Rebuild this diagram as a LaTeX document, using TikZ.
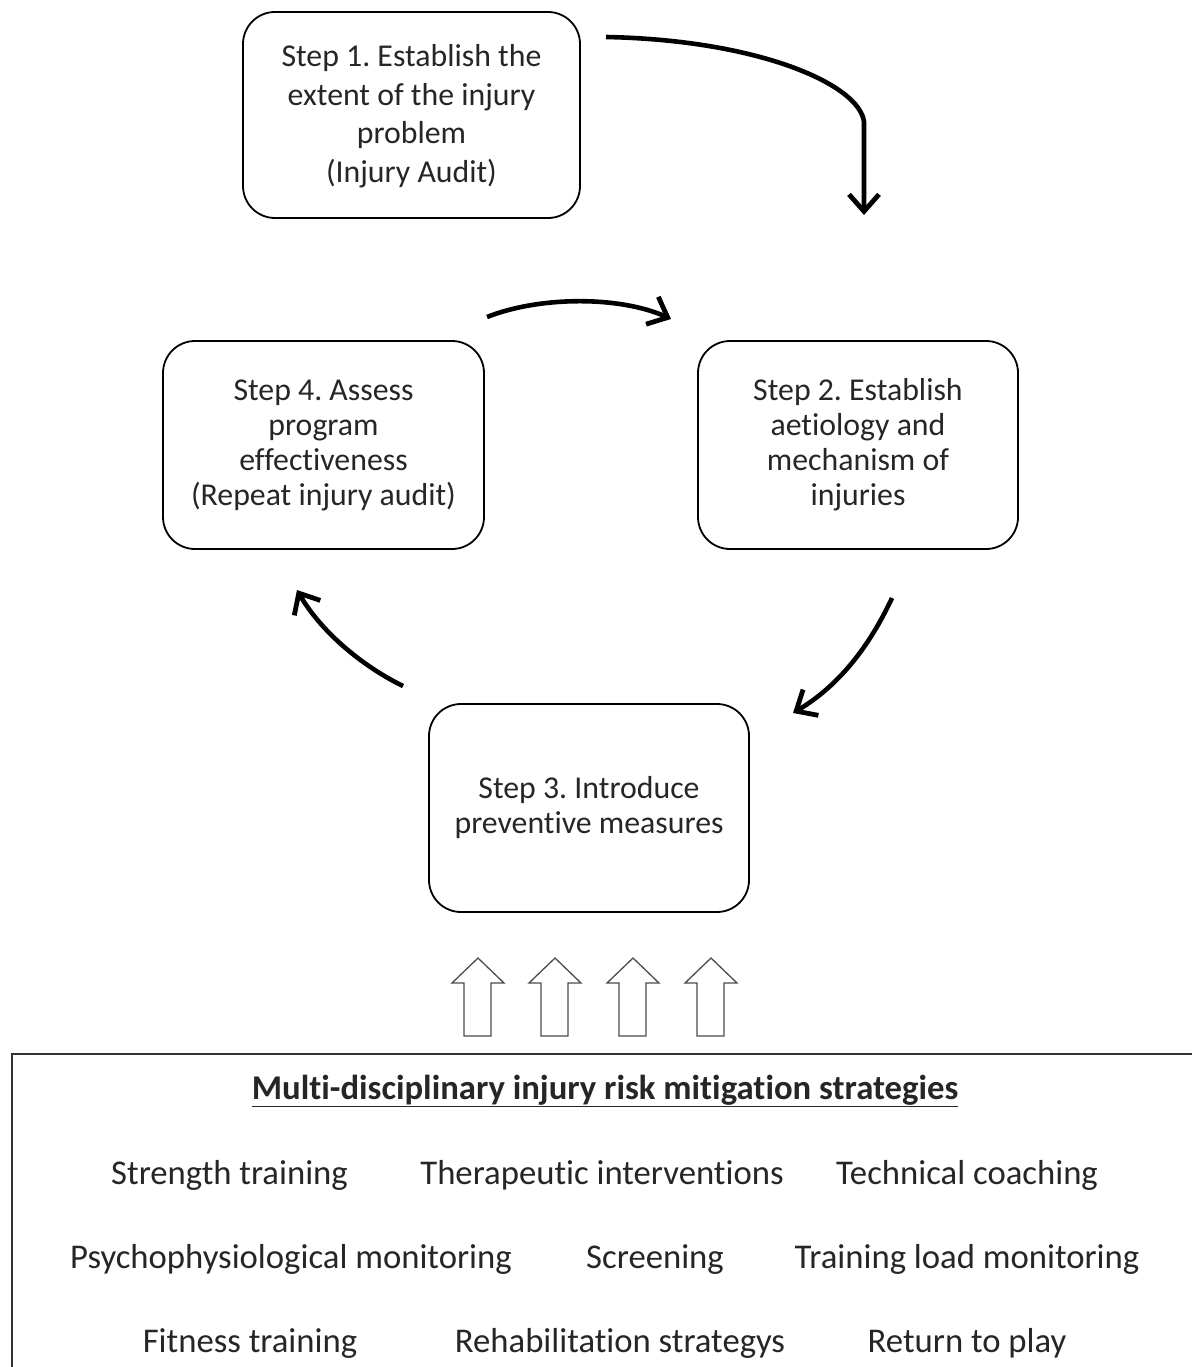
\documentclass[tikz,border=0pt]{standalone}
\usepackage{fontspec}
\setmainfont{Carlito}[Ligatures={NoCommon}]
\usetikzlibrary{arrows.meta}
\definecolor{txt}{HTML}{262626}
\frenchspacing
\begin{document}
\begin{tikzpicture}[x=1pt,y=-1pt,
  stepbox/.style={draw=black, line width=1.8pt, rounded corners=32pt, align=center,
    text=txt, font=\fontsize{31.8}{35}\selectfont, inner sep=0pt},
  cyc/.style={line width=4.6pt, -{Straight Barb[length=17pt,width=30pt,line width=4.8pt]}},
  hollow/.style={draw=black!70, line width=1.3pt, fill=white},
  item/.style={text=txt, font=\fontsize{34.7}{40}\selectfont, anchor=base, inner sep=0pt}]
\useasboundingbox (0,0) rectangle (1192,1367);
\fill[white] (0,0) rectangle (1192,1367);
% boxes
\node[stepbox, minimum width=337pt, minimum height=206pt] (s1) at (411.5,115) {};
\node[txt, align=center, font=\fontsize{31.8}{38.5}\selectfont] (t1) at (411.5,116) {Step 1. Establish the\\extent of the injury\\problem\\(Injury Audit)};
\node[stepbox, minimum width=321pt, minimum height=208pt] (s4) at (323.5,445) {Step 4. Assess\\program\\effectiveness\\(Repeat injury audit)};
\node[stepbox, minimum width=320pt, minimum height=208pt] (s2) at (858,445) {Step 2. Establish\\aetiology and\\mechanism of\\injuries};
\node[stepbox, minimum width=320pt, minimum height=208pt] (s3) at (589,808) {Step 3. Introduce\\preventive measures};
% cycle arrows
\coordinate (a1s) at (606,37);
\coordinate (a1m) at (864,122);
\coordinate (a1e) at (864,215);
\draw[cyc] (a1s) .. controls (760,40) and (860,85) .. (a1m) -- (a1e);
\coordinate (a2s) at (487,317);
\coordinate (a2e) at (671,319);
\draw[cyc] (a2s) .. controls (540,296) and (620,296) .. (a2e);
\coordinate (a3s) at (892,598);
\coordinate (a3e) at (793,713);
\draw[cyc] (a3s) .. controls (870,645) and (840,685) .. (a3e);
\coordinate (a4s) at (403,686);
\coordinate (a4e) at (297,590);
\draw[cyc] (a4s) .. controls (360,665) and (320,630) .. (a4e);
% hollow arrows
\foreach \cx/\nm in {478/h1,555/h2,633/h3,711/h4}{
  \draw[hollow] (\cx,958) -- (\cx+26,983) -- (\cx+13,983) -- (\cx+13,1036)
    -- (\cx-14,1036) -- (\cx-14,983) -- (\cx-26,983) -- cycle;
  \coordinate (\nm) at (\cx,958);
}
% bottom box
\draw[line width=1.6pt, draw=black!80] (12,1367) -- (12,1054) -- (1192,1054);
\node[item, font=\bfseries\fontsize{34.7}{40}\selectfont] (title) at (605,1099) {\underline{Multi-disciplinary injury risk mitigation strategies}};
\node[item] (m1) at (229.5,1184) {Strength training};
\node[item] (m2) at (602,1184) {Therapeutic interventions};
\node[item] (m3) at (967,1184) {Technical coaching};
\node[item] (m4) at (291,1268) {Psychophysiological monitoring};
\node[item] (m5) at (655,1268) {Screening};
\node[item] (m6) at (967,1268) {Training load monitoring};
\node[item] (m7) at (250,1352) {Fitness training};
\node[item] (m8) at (620,1352) {Rehabilitation strategys};
\node[item] (m9) at (967,1352) {Return to play};
\end{tikzpicture}
\end{document}
